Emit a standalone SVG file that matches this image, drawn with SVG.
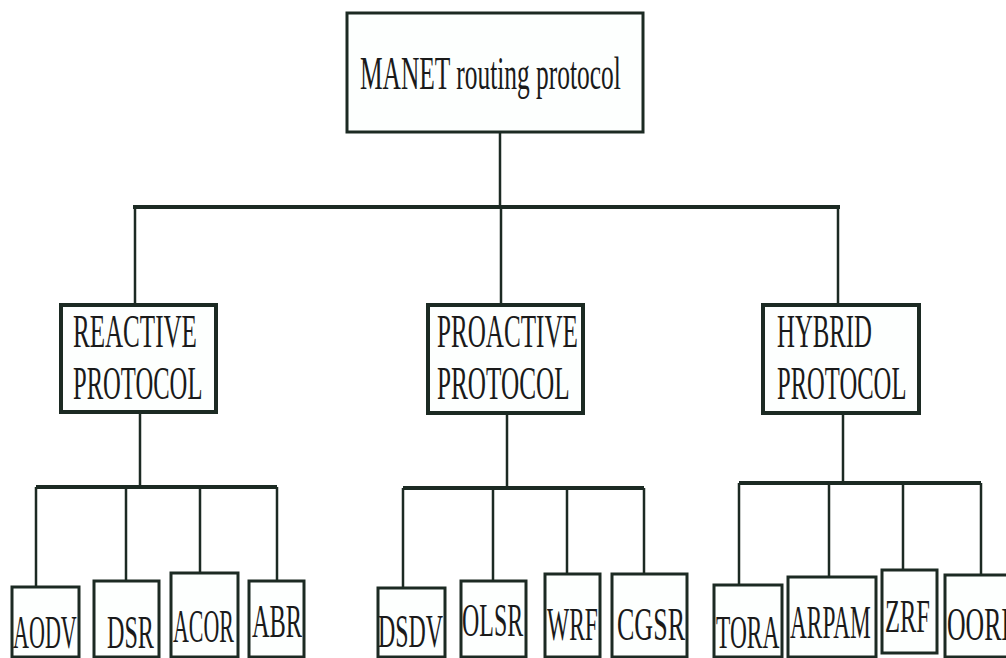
<svg xmlns="http://www.w3.org/2000/svg" width="1006" height="658" viewBox="0 0 1006 658">
<style>
.box{fill:#fdfffe;stroke:#1c2a23;stroke-width:3}
.cat{fill:#fdfffe;stroke:#1c2a23;stroke-width:4}
.leaf{fill:#fdfffe;stroke:#1c2a23;stroke-width:3}
.ln{stroke:#1c2a23;stroke-width:2.5;fill:none}
.bar{stroke:#1c2a23;stroke-width:4;fill:none}
text{font-family:"Liberation Serif","Times New Roman",serif;fill:#1a1a1a;font-size:46px}
</style>
<rect width="1006" height="658" fill="#ffffff"/>
<g id="connectors">
<path class="ln" d="M500 132V207M135 207V305M501 207V305M838 207V305"/>
<path class="bar" d="M133 207H840"/>
<path class="ln" d="M140 412V487M36 487V587M126 487V581M200 487V573M277 487V581"/>
<path class="bar" d="M36 487H277"/>
<path class="ln" d="M507 413V488M403 488V588M493 488V581M567 488V574M644 488V574"/>
<path class="bar" d="M403 488H644"/>
<path class="ln" d="M843 413V483M739 483V585M829 483V577M903 483V570M981 483V575"/>
<path class="bar" d="M739 483H981"/>
</g>
<g id="root"><rect class="box" x="347" y="13" width="296" height="119"/><text transform="translate(360,89) scale(0.553,1)" font-size="48">MANET routing protocol</text></g>
<g id="reactive"><rect class="cat" x="61" y="305" width="155" height="107"/><text transform="translate(73,347) scale(0.545,1)">REACTIVE</text><text transform="translate(73,399) scale(0.535,1)">PROTOCOL</text></g>
<g id="proactive"><rect class="cat" x="428" y="305" width="155" height="108"/><text transform="translate(437,347) scale(0.546,1)">PROACTIVE</text><text transform="translate(437,399) scale(0.548,1)">PROTOCOL</text></g>
<g id="hybrid"><rect class="cat" x="763" y="305" width="156" height="108"/><text transform="translate(777,347) scale(0.539,1)">HYBRID</text><text transform="translate(777,399) scale(0.535,1)">PROTOCOL</text></g>
<g id="aodv"><rect class="leaf" x="12" y="587" width="67" height="70"/><text transform="translate(13,648) scale(0.48,1)">AODV</text></g>
<g id="dsr"><rect class="leaf" x="94" y="581" width="65" height="76"/><text transform="translate(107,648) scale(0.525,1)">DSR</text></g>
<g id="acor"><rect class="leaf" x="171" y="573" width="67" height="84"/><text transform="translate(173,642) scale(0.477,1)">ACOR</text></g>
<g id="abr"><rect class="leaf" x="249" y="581" width="55" height="76"/><text transform="translate(252,637) scale(0.53,1)">ABR</text></g>
<g id="dsdv"><rect class="leaf" x="378" y="588" width="67" height="69"/><text transform="translate(378,647) scale(0.52,1)">DSDV</text></g>
<g id="olsr"><rect class="leaf" x="461" y="581" width="65" height="76"/><text transform="translate(462,636) scale(0.52,1)">OLSR</text></g>
<g id="wrf"><rect class="leaf" x="545" y="574" width="55" height="83"/><text transform="translate(547,640) scale(0.51,1)">WRF</text></g>
<g id="cgsr"><rect class="leaf" x="612" y="574" width="75" height="83"/><text transform="translate(617,640) scale(0.566,1)">CGSR</text></g>
<g id="tora"><rect class="leaf" x="714" y="585" width="68" height="72"/><text transform="translate(716,648) scale(0.51,1)">TORA</text></g>
<g id="arpam"><rect class="leaf" x="788" y="577" width="88" height="80"/><text transform="translate(790,638) scale(0.507,1)">ARPAM</text></g>
<g id="zrf"><rect class="leaf" x="882" y="570" width="55" height="83"/><text transform="translate(885,632) scale(0.533,1)">ZRF</text></g>
<g id="oori"><rect class="leaf" x="945" y="575" width="75" height="82"/><text transform="translate(947,640) scale(0.56,1)">OORI</text></g>
</svg>
